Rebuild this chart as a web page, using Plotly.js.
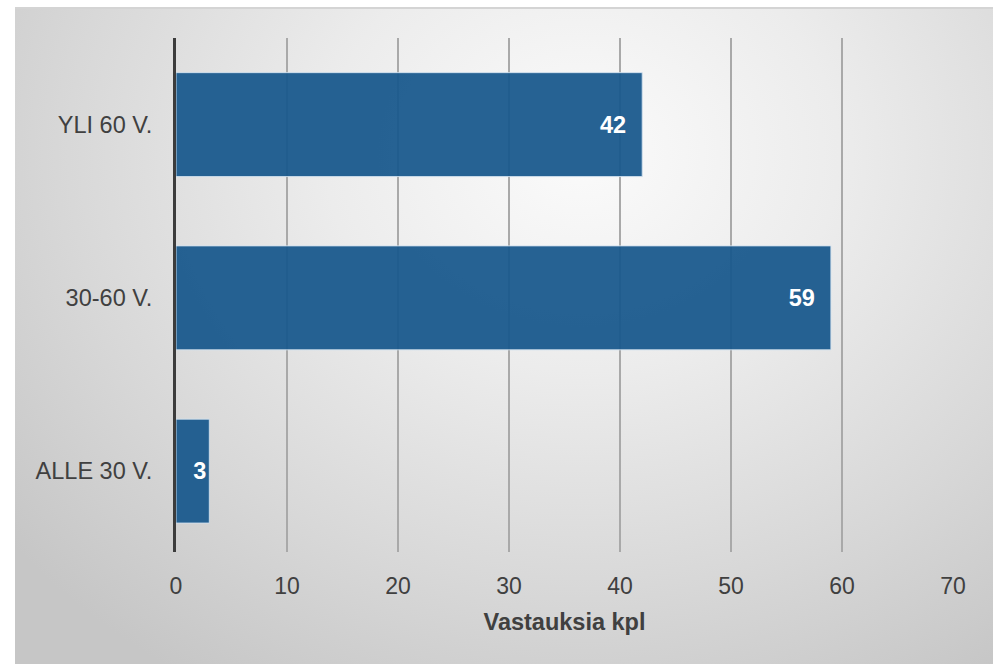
<!DOCTYPE html>
<html>
<head>
<meta charset="utf-8">
<script src="https://cdn.plot.ly/plotly-3.0.1.min.js"></script>
<style>
  html, body { margin: 0; padding: 0; background: #ffffff; }
  #wrap { position: relative; width: 993px; height: 664px; overflow: hidden; }
  #bg {
    position: absolute; left: 15px; top: 7px; right: 0; bottom: 0;
    border-top: 2px solid #d4d4d4;
    background: radial-gradient(ellipse 75% 95% at 58% 22%, #fbfbfb 0%, #ececec 35%, #d8d8d8 70%, #c6c6c6 100%);
  }
  #chart { position: absolute; left: 0; top: 0; width: 993px; height: 664px; }
</style>
</head>
<body>
<div id="wrap">
  <div id="bg"></div>
  <div id="chart"></div>
</div>
<script>
// Data (bottom to top, as Plotly draws horizontal bar categories)
const categories = ['ALLE 30 V.', '30-60 V.', 'YLI 60 V.'];
const values = [3, 59, 42];
const xTicks = [0, 10, 20, 30, 40, 50, 60, 70];
const xTitle = 'Vastauksia kpl';

const FONT = 'Liberation Sans, Arial, sans-serif';
const NB = '\u00a0\u00a0';

const trace = {
  type: 'bar',
  orientation: 'h',
  y: categories,
  x: values,
  marker: {
    color: 'rgba(24, 88, 140, 0.94)',
    line: { color: 'rgba(210, 225, 238, 0.9)', width: 1 }
  },
  // label padding: short bar keeps its label close to the bar end
  texttemplate: values.map(v => v < 10 ? '%{x}' : '%{x}' + NB),
  textposition: 'inside',
  insidetextanchor: 'end',
  constraintext: 'none',
  textfont: { family: FONT, size: 23.5, color: '#ffffff', weight: 'bold' },
  hoverinfo: 'none'
};

const layout = {
  width: 993,
  height: 664,
  margin: { l: 176, r: 40, t: 38, b: 112 },
  paper_bgcolor: 'rgba(0,0,0,0)',
  plot_bgcolor: 'rgba(0,0,0,0)',
  bargap: 0.4,
  showlegend: false,
  xaxis: {
    range: [0, 70],
    tickvals: xTicks,
    ticktext: xTicks.map(String),
    showgrid: true,
    gridcolor: '#a9a9a9',
    gridwidth: 1.5,
    zeroline: false,
    showline: false,
    ticks: 'outside',
    ticklen: 13,
    tickcolor: 'rgba(0,0,0,0)',
    tickfont: { family: FONT, size: 23, color: '#404040' },
    title: { text: xTitle, font: { family: FONT, size: 23.5, color: '#404040', weight: 'bold' }, standoff: 15 },
    fixedrange: true
  },
  yaxis: {
    type: 'category',
    range: [-0.467, 2.5],
    showgrid: false,
    zeroline: false,
    showline: true,
    linecolor: '#3c3c3c',
    linewidth: 3,
    ticks: 'outside',
    ticklen: 16,
    tickcolor: 'rgba(0,0,0,0)',
    tickfont: { family: FONT, size: 23.5, color: '#404040' },
    fixedrange: true
  }
};

Plotly.newPlot('chart', [trace], layout, { displayModeBar: false, staticPlot: true });
</script>
</body>
</html>
